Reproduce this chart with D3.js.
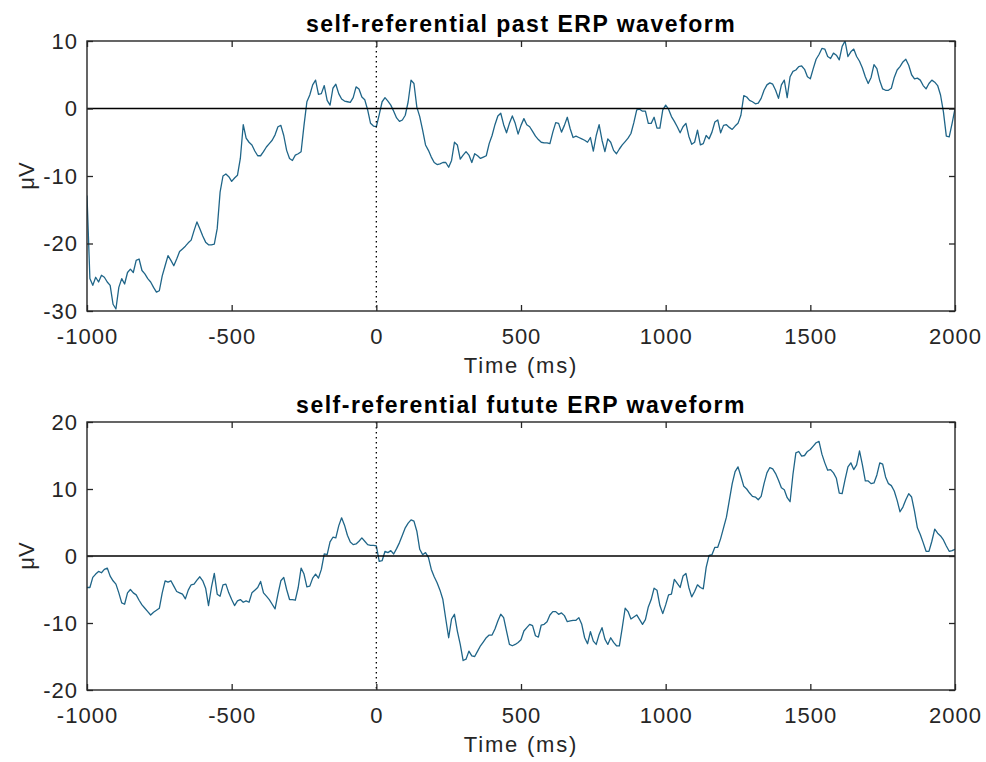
<!DOCTYPE html>
<html>
<head>
<meta charset="utf-8">
<script src="https://cdn.jsdelivr.net/npm/d3@7"></script>
<style>
body { margin: 0; background: #fff; }
text { font-family: "Liberation Sans", Arial, Helvetica, sans-serif; }
</style>
</head>
<body>
<svg id="fig" width="986" height="762"></svg>
<script>
// sampling of the averaged epoch
var timeStart = -1000, timeStep = 10; // ms

var xTicks = [-1000, -500, 0, 500, 1000, 1500, 2000];
var pastYTicks = [-30, -20, -10, 0, 10];
var futureYTicks = [-20, -10, 0, 10, 20];

var pastTitle = 'self-referential past ERP waveform';
var futureTitle = 'self-referential futute ERP waveform';

// µV, one value per 10 ms from -1000 to 2000 ms
var pastValues = [
    -12.9,-25.2,-26.2,-25,-25.7,-24.7,-25,-25.7,-26.2,-29,
    -29.7,-26.5,-25.2,-26,-24.3,-23.8,-24.3,-22.5,-22.3,-24,
    -24.5,-25.2,-25.7,-26.5,-27.2,-27,-24.8,-23.3,-21.8,-22.5,
    -23.3,-22.3,-21.2,-20.8,-20.4,-19.9,-19.5,-18.1,-16.8,-17.8,
    -18.9,-19.8,-20.2,-20.2,-20.1,-17.8,-12.4,-10,-9.7,-10.1,
    -10.8,-10.3,-9.9,-7.4,-2.4,-4.4,-5,-5.4,-6.3,-7,
    -7,-6.4,-5.7,-5.2,-4.7,-3.9,-2.7,-2.5,-4,-6.2,
    -7.4,-7.7,-6.9,-6.7,-6.4,-2.5,1,2,3.5,4.2,
    2.1,2.2,3.4,1.2,0.5,3,3.6,2.2,1.4,1.1,
    1,0.9,1.6,3.2,2.9,1.7,1.3,-0.2,-2.2,-2.6,
    -2.7,-0.9,1,1.6,1.1,0.5,-0.4,-1.4,-1.9,-1.7,
    -1,1,4.2,3.7,0.2,-1.2,-3.2,-5.4,-6.2,-7.2,
    -8,-8.3,-8.2,-8,-8,-8.7,-7.7,-5,-5.4,-7.5,
    -6.9,-6.4,-6.9,-8,-6.7,-7,-7.4,-7.2,-7,-5.2,
    -4,-2.4,-1.1,-0.7,-2.4,-3.6,-2.2,-1.1,-2.2,-3.8,
    -2.5,-1.5,-2.4,-2.7,-3.4,-4.1,-4.6,-5,-5.1,-5.1,
    -5.2,-3.5,-2.1,-2.2,-3.5,-2.5,-1.3,-3,-4.3,-4.1,
    -4.3,-4.5,-4.7,-5,-4.3,-6.3,-4,-2.4,-4.7,-6.4,
    -4.5,-5,-6.2,-6.7,-6,-5.4,-4.9,-4.4,-3.7,-2.1,
    -0.2,-0.1,-0.4,-0.4,-2.2,-2.2,-1.3,-2.9,-2.9,-0.2,
    0.5,-0.1,-1.2,-1.9,-2.7,-3.6,-2.7,-2.2,-4.1,-5.3,
    -5,-3.2,-5.4,-5.2,-4,-4.5,-3.5,-2,-1.7,-3.6,
    -2.5,-2.4,-2.8,-3.1,-2.6,-2.2,-1,1.9,1.7,1.2,
    1,0.7,0.8,1.5,2.7,3.5,3.8,3.6,2.7,1.5,
    3.5,4.2,1.6,4.7,5.5,5.7,6.2,6.3,5.8,4.7,
    4.4,5.9,7.3,8,8.9,8.8,7.7,7.4,8.2,7.9,
    7.2,9.2,10,7.7,8.4,8.8,7.7,7,6,4.7,
    3.7,4.6,6.5,5.9,4.1,2.9,2.7,2.7,3,4.6,
    5.7,6.2,6.9,7.3,6.4,5,4.4,4.5,4.2,3.4,
    2.9,3.7,4.2,3.9,3.4,2,-0.5,-4.1,-4.2,-2.2,
    0
];

var futureValues = [
    -4.7,-4.7,-3.2,-2.7,-2.3,-2.5,-2,-1.8,-3,-3.7,
    -4.2,-5.5,-7,-7.2,-5.5,-5,-5.5,-5.8,-6.6,-7.3,
    -7.8,-8.3,-8.8,-8.4,-8.1,-7.8,-5.5,-3.7,-3.9,-3.7,
    -4.5,-5.3,-5.5,-5.7,-6.4,-5.1,-4.3,-4.2,-3.6,-3.1,
    -3.7,-4.8,-7.4,-4.7,-2.6,-5.7,-6,-4.3,-4.2,-5.5,
    -6.5,-7.4,-6.7,-6.5,-6.9,-6.7,-6.9,-5.5,-5.1,-4.7,
    -3.8,-5.5,-6,-6.5,-7.2,-7.9,-5.7,-3.7,-3.2,-5,
    -6.5,-6.5,-6.6,-4.7,-1.8,-2.7,-4.6,-4.5,-3.3,-2.7,
    -3.3,-2,0.3,0.2,2.1,2.8,2.7,4.5,5.7,4.6,
    3.1,2.1,1.7,1.8,2.2,2.7,2.2,1.7,1.6,1.6,
    1.5,-0.8,-0.7,0.7,0.5,0.8,0.3,1.1,2,3.1,
    4.2,4.9,5.4,5.2,3.7,1,0.2,0.5,-0.2,-2,
    -3.1,-4,-5.1,-6.5,-9.4,-12.2,-9.4,-8.7,-11.2,-13.2,
    -15.6,-15.4,-14.2,-14.9,-15,-14.2,-13.4,-12.8,-12.2,-11.8,
    -11.8,-10.9,-9.7,-8.7,-9.2,-11.2,-13.2,-13.4,-13.2,-12.9,
    -12.5,-11.2,-10.7,-10.2,-10.4,-11.9,-12.1,-10.3,-10.2,-9.8,
    -8.8,-8.3,-8.3,-8.7,-8.5,-8.9,-9.8,-9.7,-9.6,-9.6,
    -9.2,-10.2,-12.2,-13.1,-11.3,-12.7,-13.2,-11.7,-10.7,-12.4,
    -13.2,-12.2,-12.9,-13.4,-13.4,-10.7,-7.8,-8.3,-9.4,-9.1,
    -8.8,-9.5,-10.2,-9.5,-7.6,-6.5,-4.8,-5.1,-7.4,-8.6,
    -7.3,-5.8,-5.7,-3.5,-4.1,-4.7,-3,-2.6,-4.7,-6.1,
    -5.3,-4.3,-4.7,-4.9,-1.7,0.1,0.2,1.3,1.3,2.6,
    4.2,5.8,8.3,10.8,12.6,13.3,11.9,10.4,10,9.4,
    8.9,8.8,8.4,8.9,10.8,12.4,13.2,13,12.3,11.3,
    10.2,9.9,8.7,8.1,12.2,15.4,15.6,14.9,15,15.6,
    15.9,16.4,16.9,17.1,15.2,13.9,12.8,12.9,12.4,11.6,
    9.4,9.3,11.4,13.3,13.9,12.9,13.6,15.7,13.6,11.2,
    11.2,10.8,10.9,12.1,13.9,13.7,11.8,10.8,10.5,9.7,
    8.3,6.6,7.3,8.4,9.3,8.8,6.7,4.2,3.2,2,
    0.7,0.7,2.2,4,3.4,3,2.4,1.5,0.7,0.8,
    1
];

var axisColor = '#262626',
    lineColor = '#1f6588',
    left = 87,
    width = 868;

var svg = d3.select('#fig');

function erpPanel(g, opts, idx) {
    var height = opts.height,
        xScale = d3.scaleLinear().domain([-1000, 2000]).range([0, width]),
        yScale = d3.scaleLinear().domain(opts.yDomain).range([height, 0]),
        fmt = function(d){ return String(d); },
        line = d3.line()
            .x(function(d, i){ return xScale(timeStart + i * timeStep); })
            .y(function(d){ return yScale(d); });

    g.attr('transform', 'translate(' + left + ',' + opts.top + ')');

    g.append('clipPath').attr('id', 'clip' + idx)
        .append('rect').attr('width', width).attr('height', height);

    g.append('path')
        .datum(opts.values)
        .attr('clip-path', 'url(#clip' + idx + ')')
        .attr('d', line)
        .attr('fill', 'none')
        .attr('stroke', lineColor)
        .attr('stroke-width', 1.3)
        .attr('stroke-linejoin', 'round');

    // baseline at 0 µV
    g.append('line')
        .attr('x1', 0).attr('x2', width)
        .attr('y1', yScale(0)).attr('y2', yScale(0))
        .attr('stroke', '#000').attr('stroke-width', 1.5);

    // stimulus onset
    g.append('line')
        .attr('x1', xScale(0)).attr('x2', xScale(0))
        .attr('y1', 0).attr('y2', height)
        .attr('stroke', '#000').attr('stroke-width', 1.3)
        .attr('stroke-dasharray', '1.4,3.6');

    var axes = [
        { ax: d3.axisBottom(xScale).tickValues(xTicks).tickPadding(17).tickFormat(fmt), tr: 'translate(0,' + height + ')' },
        { ax: d3.axisTop(xScale).tickValues(xTicks).tickFormat(''), tr: null },
        { ax: d3.axisLeft(yScale).tickValues(opts.yTicks).tickPadding(9).tickFormat(fmt), tr: null },
        { ax: d3.axisRight(yScale).tickValues(opts.yTicks).tickFormat(''), tr: 'translate(' + width + ',0)' }
    ];
    axes.forEach(function(a) {
        var ag = g.append('g').attr('transform', a.tr)
            .call(a.ax.tickSizeInner(-6).tickSizeOuter(0));
        ag.select('.domain').remove();
        ag.selectAll('line').attr('stroke', axisColor).attr('stroke-width', 1.3);
        ag.selectAll('text')
            .attr('fill', axisColor)
            .style('font-size', '22px')
            .style('letter-spacing', '1px')
            .style('font-family', '"Liberation Sans", Arial, sans-serif');
    });

    g.append('rect')
        .attr('width', width).attr('height', height)
        .attr('fill', 'none').attr('stroke', axisColor).attr('stroke-width', 1.4);

    g.append('text')
        .attr('x', width / 2).attr('y', -9.5)
        .attr('text-anchor', 'middle')
        .style('font-size', '23px').style('font-weight', 'bold')
        .style('letter-spacing', '1.5px')
        .attr('fill', '#000')
        .text(opts.title);

    g.append('text')
        .attr('x', width / 2).attr('y', height + 62)
        .attr('text-anchor', 'middle')
        .style('font-size', '22px').style('letter-spacing', '1.8px')
        .attr('fill', axisColor)
        .text('Time (ms)');

    g.append('text')
        .attr('transform', 'translate(' + (34 - left) + ',' + (height / 2) + ') rotate(-90)')
        .attr('text-anchor', 'middle')
        .style('font-size', '22px')
        .attr('fill', axisColor)
        .text('\u03bcV');
}

erpPanel(svg.append('g'), {
    title: pastTitle, values: pastValues, yDomain: [-30, 10], yTicks: pastYTicks, top: 41, height: 270
}, 0);

erpPanel(svg.append('g'), {
    title: futureTitle, values: futureValues, yDomain: [-20, 20], yTicks: futureYTicks, top: 422, height: 268
}, 1);
</script>
</body>
</html>
